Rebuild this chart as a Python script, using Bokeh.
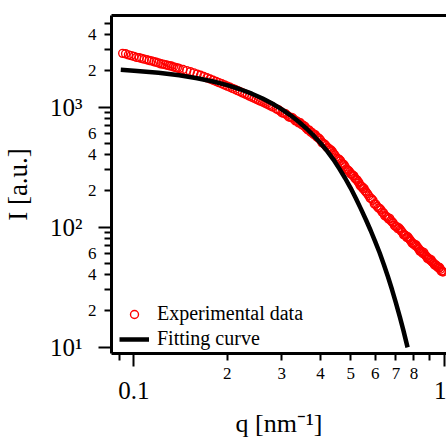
from bokeh.plotting import figure
from bokeh.models import Range1d, LogAxis, FixedTicker, Legend, LegendItem
from bokeh.embed import file_html
from bokeh.resources import INLINE

# ---- data ----
q_exp = [0.092, 0.094, 0.096, 0.098, 0.100, 0.102, 0.104, 0.106, 0.108, 0.110,
         0.112, 0.114, 0.116, 0.118, 0.120, 0.122, 0.124, 0.126, 0.128, 0.130,
         0.132, 0.134, 0.136, 0.138, 0.140,
         0.144, 0.148, 0.152, 0.156, 0.160, 0.164, 0.168, 0.172, 0.176, 0.180,
         0.184, 0.188, 0.192, 0.196, 0.200, 0.204, 0.208, 0.212, 0.216, 0.220,
         0.224, 0.228, 0.232, 0.236, 0.240, 0.244, 0.248, 0.252, 0.256, 0.260,
         0.264, 0.268, 0.272, 0.276, 0.280,
         0.288, 0.296, 0.304, 0.312, 0.320, 0.328, 0.336, 0.344, 0.352, 0.360,
         0.368, 0.376, 0.384, 0.392, 0.400, 0.408, 0.416, 0.424, 0.432, 0.440,
         0.448, 0.456, 0.464, 0.472, 0.480, 0.488, 0.496, 0.504, 0.512, 0.520,
         0.528, 0.536, 0.544, 0.552, 0.560,
         0.572, 0.584, 0.596, 0.608, 0.620, 0.632, 0.644, 0.656, 0.668, 0.680,
         0.692, 0.704, 0.716, 0.728, 0.740, 0.752, 0.764, 0.776, 0.788, 0.800,
         0.812, 0.824, 0.836, 0.848, 0.860, 0.872, 0.884, 0.896, 0.908, 0.920,
         0.932, 0.944, 0.956, 0.968, 0.980, 0.992,
         0.292, 0.300, 0.308, 0.316, 0.324, 0.332, 0.340, 0.348, 0.356, 0.364,
         0.372, 0.380, 0.388, 0.396, 0.404, 0.412, 0.420, 0.428, 0.436, 0.444,
         0.452, 0.460, 0.468, 0.476, 0.484, 0.492, 0.500, 0.508, 0.516, 0.524,
         0.532, 0.540, 0.548, 0.556, 0.566,
         0.578, 0.590, 0.602, 0.614, 0.626, 0.638, 0.650, 0.662, 0.674, 0.686,
         0.698, 0.710, 0.722, 0.734, 0.746, 0.758, 0.770, 0.782, 0.794, 0.806,
         0.818, 0.830, 0.842, 0.854, 0.866, 0.878, 0.890, 0.902, 0.914, 0.926,
         0.938, 0.950, 0.962, 0.974, 0.986]
I_exp = [2800, 2775, 2720, 2682, 2644, 2590, 2573, 2539, 2506, 2475,
         2444, 2425, 2386, 2358, 2331, 2290, 2279, 2253, 2229, 2205,
         2195, 2159, 2138, 2116, 2095,
         2053, 2009, 1969, 1924, 1880, 1839, 1794, 1751, 1710, 1671,
         1633, 1597, 1562, 1527, 1494, 1462, 1431, 1401, 1369, 1340,
         1312, 1284, 1258, 1233, 1208, 1185, 1162, 1140, 1120, 1100,
         1080, 1061, 1042, 1021, 1001,
         962, 926, 889, 854, 821, 790, 761, 740, 702, 662,
         640, 610, 588, 554, 528, 496, 477, 454, 438, 410,
         384, 369, 356, 334, 318, 298, 289, 275, 267, 250,
         239, 223, 217, 210, 196,
         182, 172, 156, 149, 143, 133, 124, 121, 118, 110.3,
         103, 100.8, 98, 92.4, 86.5, 85.0, 83, 78.3, 73.8, 72.4,
         71, 67.0, 63, 62.2, 61.5, 57.9, 54.8, 54.0, 53.5, 50.8,
         48.2, 47.9, 46.5, 46, 42.8, 42.2,
         950, 895, 880, 826, 815, 766, 738, 712, 690, 645,
         618, 592, 566, 546, 505, 490, 460, 440, 428, 400,
         372, 365, 341, 330, 304, 296, 278, 269, 255, 247,
         233, 218, 209, 201, 190,
         174, 167, 155, 144, 139, 131, 123, 117, 113, 108,
         101, 97, 95.5, 90.5, 86, 82, 80.5, 76.5, 72.8, 70.2,
         68.8, 65.5, 63.2, 60.2, 59, 56.8, 55, 52.8, 51.5, 49.8,
         48.6, 46.8, 45.3, 44.5, 43]

q_fit = [0.0907, 0.10, 0.12, 0.14, 0.16, 0.18, 0.20, 0.22, 0.24, 0.26, 0.28, 0.30,
         0.32, 0.34, 0.36, 0.38, 0.40, 0.42, 0.44, 0.46, 0.48, 0.50, 0.52, 0.54,
         0.56, 0.58, 0.60, 0.62, 0.64, 0.66, 0.68, 0.70, 0.72, 0.74, 0.763]
I_fit = [2041, 2008, 1927, 1837, 1737, 1631, 1520, 1406, 1291, 1176, 1064, 956,
         852, 753, 662, 577, 499, 429, 365, 305, 255, 211, 173, 141,
         115, 93.5, 75.5, 61, 48.5, 38.3, 30, 23.2, 17.9, 13.7, 9.93]

series_labels = ["Experimental data", "Fitting curve"]

x_major_ticks = [0.1, 1.0]
x_minor_ticks = [0.09, 0.2, 0.3, 0.4, 0.5, 0.6, 0.7, 0.8, 0.9]
x_small_labels = {0.2: "2", 0.3: "3", 0.4: "4", 0.5: "5", 0.6: "6", 0.7: "7", 0.8: "8"}
x_big_labels = {0.1: "0.1", 1.0: "1"}
x_title = "q [nm\u207b\u00b9]"

y_major_ticks = [10, 100, 1000]
y_minor_ticks = [20, 30, 40, 50, 60, 70, 80, 90,
                 200, 300, 400, 500, 600, 700, 800, 900,
                 2000, 3000, 4000, 5000]
y_small_labels = {20: "2", 40: "4", 60: "6", 200: "2", 400: "4", 600: "6",
                  2000: "2", 4000: "4"}
y_big_labels = {10: "10\u00b9", 100: "10\u00b2", 1000: "10\u00b3"}
y_title = "I [a.u.]"

FONT = "Liberation Serif"

p = figure(width=446, height=441, x_axis_type="log", y_axis_type="log",
           x_range=Range1d(0.08466, 1.0187), y_range=Range1d(8.83, 5788),
           output_backend="svg", toolbar_location=None,
           min_border_left=110, min_border_right=0, min_border_top=15,
           min_border_bottom=88)
p.outline_line_color = None
p.xgrid.visible = False
p.ygrid.visible = False
p.background_fill_color = "white"
p.border_fill_color = "white"


def style_tick_axis(ax, major, minor):
    ax.ticker = FixedTicker(ticks=major, minor_ticks=minor)
    ax.axis_line_width = 3
    ax.axis_line_color = "black"
    ax.major_tick_out = 13
    ax.major_tick_in = 0
    ax.minor_tick_out = 7
    ax.minor_tick_in = 0
    ax.major_tick_line_width = 2
    ax.minor_tick_line_width = 2
    ax.major_tick_line_color = "black"
    ax.minor_tick_line_color = "black"
    ax.major_label_overrides = {t: "" for t in major}
    ax.major_label_text_font_size = "1px"
    ax.major_label_standoff = 0


def label_axis(ax, labels, size, standoff):
    ax.ticker = FixedTicker(ticks=list(labels.keys()))
    ax.major_label_overrides = labels
    ax.axis_line_color = None
    ax.major_tick_out = 0
    ax.major_tick_in = 0
    ax.minor_tick_out = 0
    ax.minor_tick_in = 0
    ax.major_label_text_font = FONT
    ax.major_label_text_font_size = size
    ax.major_label_text_color = "black"
    ax.major_label_standoff = standoff


# bottom: ticks, small labels, big labels + title
xa = p.xaxis[0]
style_tick_axis(xa, x_major_ticks, x_minor_ticks)
xb = LogAxis()
label_axis(xb, x_small_labels, "17px", 1)
xc = LogAxis()
label_axis(xc, x_big_labels, "25px", 0)
xc.axis_label = x_title
xc.axis_label_text_font = FONT
xc.axis_label_text_font_size = "26px"
xc.axis_label_text_font_style = "normal"
xc.axis_label_text_color = "black"
xc.axis_label_standoff = 7
p.add_layout(xb, "below")
p.add_layout(xc, "below")

# left: ticks, small labels, big labels + title
ya = p.yaxis[0]
style_tick_axis(ya, y_major_ticks, y_minor_ticks)
yb = LogAxis()
label_axis(yb, y_small_labels, "17px", 2)
yc = LogAxis()
label_axis(yc, y_big_labels, "25px", 2)
yc.axis_label = y_title
yc.axis_label_text_font = FONT
yc.axis_label_text_font_size = "27px"
yc.axis_label_text_font_style = "normal"
yc.axis_label_text_color = "black"
yc.axis_label_standoff = 14
p.add_layout(yb, "left")
p.add_layout(yc, "left")

# top spine
top = LogAxis(ticker=FixedTicker(ticks=[]))
top.axis_line_width = 3
top.axis_line_color = "black"
top.major_tick_out = 0
top.major_tick_in = 0
top.minor_tick_out = 0
top.minor_tick_in = 0
top.major_label_text_font_size = "1px"
top.major_label_standoff = 0
p.add_layout(top, "above")

r_exp = p.scatter(q_exp, I_exp, marker="circle", size=8, fill_color=None,
                  line_color="#ff0000", line_width=1.4)
r_fit = p.line(q_fit, I_fit, line_color="black", line_width=4.5)

legend = Legend(items=[LegendItem(label=series_labels[0], renderers=[r_exp]),
                       LegendItem(label=series_labels[1], renderers=[r_fit])],
                location=(8, 3))
legend.border_line_color = None
legend.background_fill_alpha = 0
legend.padding = 0
legend.margin = 0
legend.spacing = 2
legend.glyph_width = 30
legend.glyph_height = 20
legend.label_height = 20
legend.label_standoff = 8
legend.label_text_font = FONT
legend.label_text_font_size = "20px"
legend.label_text_color = "black"
p.add_layout(legend)

open("out.html", "w").write(file_html(p, INLINE))
